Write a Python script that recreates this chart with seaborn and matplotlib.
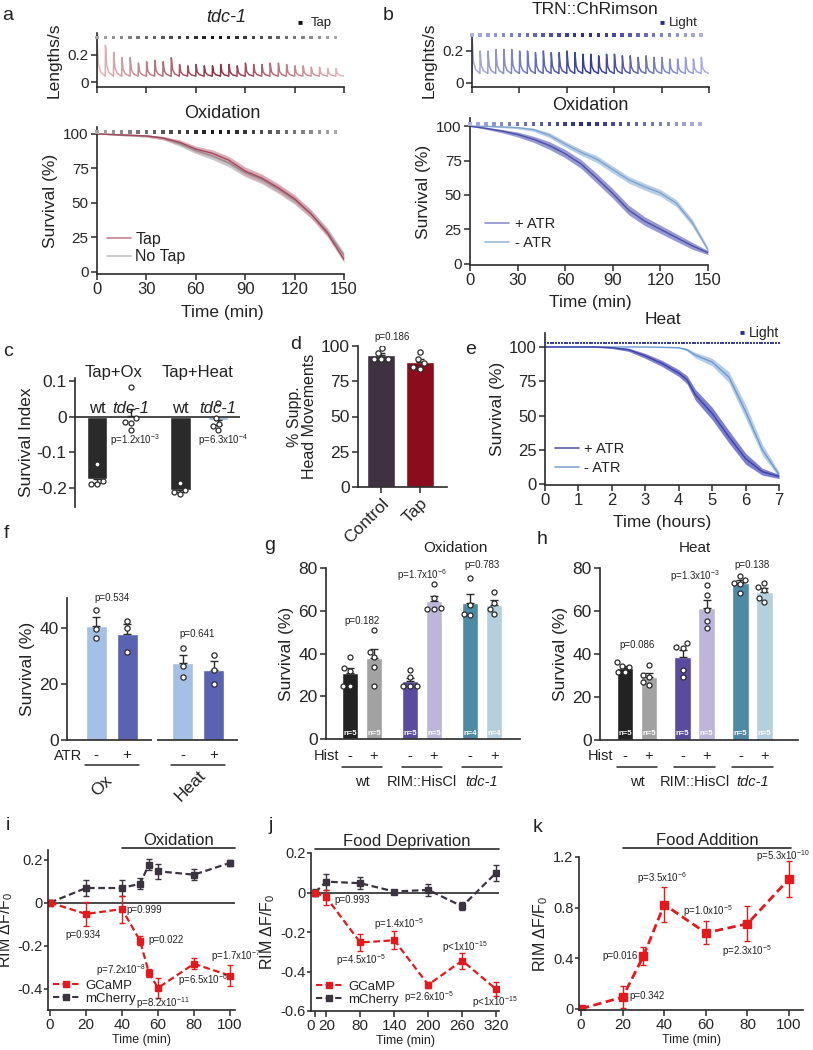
import numpy as np
import pandas as pd
import matplotlib
matplotlib.use('Agg')
import matplotlib.pyplot as plt
from matplotlib.lines import Line2D
from matplotlib.transforms import blended_transform_factory
import seaborn as sns

sns.set_theme(style='ticks')
plt.rcParams['font.family'] = ['Liberation Sans', 'DejaVu Sans']
plt.rcParams['mathtext.fontset'] = 'custom'
plt.rcParams['mathtext.rm'] = 'Liberation Sans'
plt.rcParams['mathtext.it'] = 'Liberation Sans:italic'
plt.rcParams['mathtext.default'] = 'regular'
plt.rcParams['text.color'] = '#222222'
plt.rcParams['axes.labelcolor'] = '#222222'

# ---------------- data ----------------
# a / b: speed traces, peak after every stimulus (every 5 min)
tap_times = np.arange(0, 150, 5)
a_peaks = [0.29, 0.27, 0.22, 0.18, 0.18, 0.14, 0.15, 0.16, 0.15, 0.18, 0.13, 0.12, 0.13, 0.12, 0.12,
           0.13, 0.13, 0.12, 0.14, 0.13, 0.13, 0.14, 0.14, 0.13, 0.12, 0.12, 0.11, 0.11, 0.10, 0.10]
a_base = 0.045
b_peaks = [0.27, 0.20, 0.20, 0.21, 0.21, 0.21, 0.20, 0.20, 0.19, 0.20, 0.19, 0.19, 0.20, 0.19, 0.18,
           0.18, 0.17, 0.18, 0.18, 0.17, 0.17, 0.16, 0.17, 0.16, 0.16, 0.15, 0.15, 0.16, 0.15, 0.16]
b_base = 0.06

# a / b: survival under oxidation (min)
ox_time = [0, 10, 20, 30, 40, 50, 60, 70, 80, 90, 100, 110, 120, 130, 140, 150]
a_tap = [100, 99.5, 99, 98.5, 97, 94, 89, 86, 81, 73, 68, 61, 53, 42, 28, 9]
a_tap_se = [0, 0.4, 0.6, 0.8, 1.2, 1.8, 2.2, 2.5, 2.8, 3, 3, 3, 3, 3, 2.8, 2.2]
a_notap = [100, 99.5, 99, 98.5, 97, 93, 88, 84, 79, 72, 67, 60, 52, 42, 29, 12]
a_notap_se = [0, 0.4, 0.6, 0.8, 1.2, 1.8, 2.2, 2.5, 2.8, 3, 3, 3, 3, 3, 2.8, 2.2]
b_plus = [100, 98.5, 96.5, 94, 90.5, 86, 80, 72.5, 62, 51, 39, 31, 25, 19, 13, 8]
b_plus_se = [0, 0.8, 1.2, 1.8, 2.2, 2.8, 3, 3.2, 3.5, 3.5, 3.5, 3.2, 3, 2.8, 2.5, 1.5]
b_minus = [100, 100, 99.5, 99, 97.5, 93.5, 87, 81, 76, 68.5, 61, 56, 51.5, 44, 30, 10]
b_minus_se = [0, 0.3, 0.6, 0.8, 1.2, 1.8, 2, 2.2, 2.5, 2.5, 2.5, 2.5, 2.5, 2.5, 2.5, 1.5]

# e: survival under heat (hours)
e_plus_t = [0, 1, 1.5, 2, 2.5, 3, 3.5, 4, 4.25, 4.5, 5, 5.5, 6, 6.5, 7]
e_plus = [100, 100, 100, 99.5, 98, 93.5, 88, 81, 76, 65, 51.5, 34.5, 18.5, 9, 5.5]
e_plus_se = [0, 0, 0.3, 0.6, 1.2, 1.8, 2.2, 2.5, 3, 4, 4.5, 4.5, 4, 2.5, 1.5]
e_minus_t = [0, 1, 2, 3, 4, 4.25, 4.5, 5, 5.5, 6, 6.5, 7]
e_minus = [100, 100, 100, 100, 99.5, 98, 94, 89, 78, 53, 25, 7]
e_minus_se = [0, 0, 0, 0, 0.3, 1, 2, 2.8, 4, 5, 4, 2]

# c: survival index
c_labels = ['wt', 'tdc-1', 'wt', 'tdc-1']
c_conditions = ['Tap+Ox', 'Tap+Heat']
c_points = [[-0.132, -0.181, -0.19, -0.19],
            [0.083, -0.005, -0.015, -0.018, -0.038],
            [-0.186, -0.212, -0.218, -0.205],
            [0.037, -0.005, -0.02, -0.025, -0.037]]
c_pvals = [r'p=1.2x10$^{-3}$', r'p=6.3x10$^{-4}$']

# d: head movements
d_labels = ['Control', 'Tap']
d_points = [[98.5, 95, 91, 91, 91], [95.5, 91, 88, 85, 84]]
d_pval = 'p=0.186'

# f: ATR
f_groups = ['Ox', 'Heat']
f_atr = ['-', '+', '-', '+']
f_points = [[46.5, 39.5, 36.5], [42.5, 40, 31.5], [33, 26.5, 22.5], [30.5, 25, 20]]
f_pvals = ['p=0.534', 'p=0.641']

# g / h: histamine
gh_groups = ['wt', 'RIM::HisCl', 'tdc-1']
gh_hist = ['-', '+', '-', '+', '-', '+']
g_points = [[38.5, 33, 32, 25, 25], [51, 40.8, 38.5, 33.6, 25], [32.2, 29, 25, 25, 25],
            [72.7, 66, 61, 61.5, 61], [75.5, 62.5, 58, 58.5], [68.7, 63.7, 60.7, 58.4]]
g_pvals = ['p=0.182', r'p=1.7x10$^{-6}$', 'p=0.783']
h_points = [[36.4, 34.4, 31.8, 31.8, 34], [34.9, 30.2, 29.3, 25.6, 26.8], [45, 43.1, 42.7, 32.6, 29.3],
            [72.1, 67.4, 60.5, 55.3, 52.2], [76.3, 74.4, 72.9, 72.5, 68.2], [73.2, 71, 69.8, 66.2, 64.3]]
h_pvals = ['p=0.086', r'p=1.3x10$^{-3}$', 'p=0.138']

# i: oxidation imaging
i_t = [0, 20, 40, 50, 55, 60, 80, 100]
i_gcamp = [0, -0.053, -0.03, -0.177, -0.327, -0.397, -0.285, -0.34]
i_gcamp_se = [0.01, 0.055, 0.063, 0.02, 0.02, 0.047, 0.025, 0.05]
i_mch = [0, 0.068, 0.068, 0.088, 0.177, 0.146, 0.13, 0.185]
i_mch_se = [0.01, 0.035, 0.035, 0.025, 0.025, 0.035, 0.025, 0.015]
i_pvals = ['p=0.934', 'p=0.999', 'p=0.022', r'p=7.2x10$^{-8}$', r'p=8.2x10$^{-11}$',
           r'p=6.5x10$^{-6}$', r'p=1.7x10$^{-7}$']

# j: food deprivation imaging
j_t = [0, 20, 80, 140, 200, 260, 320]
j_gcamp = [0, -0.025, -0.253, -0.242, -0.467, -0.345, -0.49]
j_gcamp_se = [0.01, 0.04, 0.045, 0.045, 0.015, 0.04, 0.035]
j_mch = [0, 0.055, 0.047, 0.005, 0.013, -0.07, 0.1]
j_mch_se = [0.02, 0.04, 0.03, 0.01, 0.03, 0.02, 0.04]
j_pvals = ['p=0.993', r'p=4.5x10$^{-5}$', r'p=1.4x10$^{-5}$', r'p=2.6x10$^{-5}$',
           r'p<1x10$^{-15}$', r'p<1x10$^{-15}$']

# k: food addition imaging
k_t = [0, 20, 30, 40, 60, 80, 100]
k_gcamp = [0, 0.092, 0.418, 0.824, 0.60, 0.672, 1.027]
k_gcamp_se = [0.01, 0.085, 0.07, 0.14, 0.09, 0.14, 0.14]
k_pvals = ['p=0.342', 'p=0.016', r'p=3.5x10$^{-6}$', r'p=1.0x10$^{-5}$', r'p=2.3x10$^{-5}$',
           r'p=5.3x10$^{-10}$']

# ---------------- layout helpers ----------------
W, H = 813, 1050
fig = plt.figure(figsize=(W / 100, H / 100), dpi=100)
INK = '#2a2a2a'
RED = '#e3191c'
MCH = '#3b3340'


def axes_px(l, t, r, b):
    return fig.add_axes([l / W, 1 - b / H, (r - l) / W, (b - t) / H])


def ftext(x, y, s, **kw):
    kw.setdefault('ha', 'center')
    kw.setdefault('va', 'center')
    return fig.text(x / W, 1 - y / H, s, **kw)


def style(ax, size=11):
    sns.despine(ax=ax)
    ax.tick_params(direction='out', length=4, width=1.1, labelsize=size, pad=2, color=INK)
    for s in ['left', 'bottom']:
        ax.spines[s].set_linewidth(1.2)
        ax.spines[s].set_color(INK)


def trace(ax, peaks, base, pal):
    dt = np.array([0, 0.15, 0.9, 2.2, 4.9])
    fr = np.array([0, 1, 0.35, 0.12, 0])
    for i, (t, p) in enumerate(zip(tap_times, peaks)):
        ax.plot(t + dt, base + (p - base) * fr, color=pal[i], lw=1.1)


def surv(ax, t, y, se, line_col, band_col):
    t, y, se = np.asarray(t), np.asarray(y), np.asarray(se)
    ax.fill_between(t, y - se, y + se, color=band_col, alpha=0.8, lw=0)
    sns.lineplot(x=t, y=y, ax=ax, color=line_col, lw=1)


def bars(ax, pos, groups, colors, width, ptsize=3.8):
    rows = []
    for x, vals, col in zip(pos, groups, colors):
        m = np.mean(vals)
        se = np.std(vals, ddof=1) / np.sqrt(len(vals))
        ax.bar(x, m, width=width, color=col, zorder=1)
        yerr = [[0], [se]] if m >= 0 else [[se], [0]]
        ax.errorbar(x, m, yerr=yerr, color=INK, capsize=3, elinewidth=1, capthick=1, zorder=2)
        rows += [(x, v) for v in vals]
    df = pd.DataFrame(rows, columns=['pos', 'val'])
    sns.swarmplot(data=df, x='pos', y='val', native_scale=True, orient='x', ax=ax, size=ptsize,
                  color='white', edgecolor=INK, linewidth=0.9, zorder=3)
    ax.set_xlabel('')
    ax.set_ylabel('')


def stim_dots(ax, times, y, pal, size=6):
    ax.scatter(times, [y] * len(times), marker='s', s=size, c=pal, lw=0, clip_on=False, zorder=4)


tap_pal = sns.blend_palette(['#a8a8a8', '#151515', '#a8a8a8'], len(tap_times))
light_pal = sns.blend_palette(['#aeb0e0', '#23278a', '#aeb0e0'], len(tap_times))

# ---------------- a ----------------
ax = axes_px(97, 33, 344, 87)
trace(ax, a_peaks, a_base, sns.blend_palette(['#e2b6bc', '#8a3043', '#e2b6bc'], len(tap_times)))
stim_dots(ax, tap_times, 0.325, tap_pal)
ax.set_xlim(0, 150)
ax.set_ylim(-0.035, 0.36)
ax.set_xticks(range(0, 151, 30), [])
ax.set_yticks([0, 0.2], ['0', '0.2'])
style(ax, 11)
ax.set_ylabel('Lengths/s', fontsize=12.5, labelpad=4)
ftext(226, 17, 'tdc-1', fontsize=13, style='italic')
ftext(300, 23, '■', fontsize=6, color='#111111')
ftext(321, 23, 'Tap', fontsize=9.5)

ax = axes_px(97, 127, 344, 274)
surv(ax, ox_time, a_notap, a_notap_se, '#8e8e8e', '#b9b9b9')
surv(ax, ox_time, a_tap, a_tap_se, '#a44860', '#d99aa8')
stim_dots(ax, tap_times, 101.5, tap_pal)
ax.set_xlim(0, 150)
ax.set_ylim(-1.5, 105)
ax.set_xticks(range(0, 151, 30))
ax.set_yticks([0, 25, 50, 75, 100])
style(ax, 11)
ax.tick_params(axis='x', labelsize=12)
ax.set_ylabel('Survival (%)', fontsize=12.5, labelpad=4)
ax.legend([Line2D([], [], color='#c4848f', lw=1.2), Line2D([], [], color='#c2c2c2', lw=1.2)],
          ['Tap', 'No Tap'], loc='lower left', frameon=False, fontsize=11.5, handlelength=1.5,
          handletextpad=0.3, labelspacing=0.15, borderaxespad=0.2)
ftext(222, 113, 'Oxidation', fontsize=13)
ftext(222, 313, 'Time (min)', fontsize=12.5)

# ---------------- b ----------------
ax = axes_px(472, 34, 709, 87)
trace(ax, b_peaks, b_base, sns.blend_palette(['#a9acdd', '#33379a', '#a9acdd'], len(tap_times)))
stim_dots(ax, tap_times, 0.3, light_pal)
ax.set_xlim(0, 150)
ax.set_ylim(-0.025, 0.306)
ax.set_xticks(range(0, 151, 30), [])
ax.set_yticks([0, 0.2], ['0', '0.2'])
style(ax, 11)
ax.set_ylabel('Lenghts/s', fontsize=12.5, labelpad=4)
ftext(595, 9, 'TRN::ChRimson', fontsize=12.5)
ftext(662, 23, '■', fontsize=6, color='#2a2e8c')
ftext(683, 23, 'Light', fontsize=9.5)

ax = axes_px(470, 118, 708, 265)
surv(ax, ox_time, b_minus, b_minus_se, '#7fa3cf', '#a7c2e2')
surv(ax, ox_time, b_plus, b_plus_se, '#4b4fa6', '#7c80c8')
stim_dots(ax, tap_times, 101.5, light_pal)
ax.set_xlim(0, 150)
ax.set_ylim(-1, 106)
ax.set_xticks(range(0, 151, 30))
ax.set_yticks([0, 25, 50, 75, 100])
style(ax, 11)
ax.tick_params(axis='x', labelsize=12)
ax.set_ylabel('Survival (%)', fontsize=12.5, labelpad=4)
ax.legend([Line2D([], [], color='#8d8fcc', lw=1.2), Line2D([], [], color='#9db8dc', lw=1.2)],
          ['+ ATR', '- ATR'], loc='lower left', frameon=False, fontsize=10.5, handlelength=1.7,
          handletextpad=0.4, labelspacing=0.35, borderaxespad=0.6)
ftext(590, 105, 'Oxidation', fontsize=13)
ftext(590, 302, 'Time (min)', fontsize=12.5)

# ---------------- c ----------------
ax = axes_px(75, 378, 240, 507)
pos_c = [0, 1, 2.45, 3.55]
bars(ax, pos_c, c_points, [INK, '#8fb0d0', INK, '#8fb0d0'], 0.6, ptsize=3.6)
ax.axhline(0, color=INK, lw=1.2, zorder=2)
ax.set_xlim(-0.65, 4.2)
ax.set_ylim(-0.253, 0.108)
ax.set_xticks([])
ax.set_yticks([0.1, 0, -0.1, -0.2], ['0.1', '0', '-0.1', '-0.2'])
style(ax, 12.5)
ax.spines['bottom'].set_visible(False)
ax.set_ylabel('Survival Index', fontsize=12.5, labelpad=2)
for x, lab in zip(pos_c, c_labels):
    ax.text(x, 0.024, lab, ha='center', va='center', fontsize=12,
            style='italic' if lab != 'wt' else 'normal', zorder=5)
ftext(114, 372, c_conditions[0], fontsize=12)
ftext(198, 372, c_conditions[1], fontsize=12)
ax.text(1.1, -0.065, c_pvals[0], ha='center', va='center', fontsize=7)
ax.text(3.7, -0.065, c_pvals[1], ha='center', va='center', fontsize=7)

# ---------------- d ----------------
ax = axes_px(358, 346, 447, 487)
bars(ax, [0, 1], d_points, ['#3f3141', '#8a0c1d'], 0.72)
ax.set_xlim(-0.59, 1.69)
ax.set_ylim(0, 100)
ax.set_yticks([0, 25, 50, 75, 100])
ax.set_xticks([0, 1], d_labels, rotation=45, ha='right', rotation_mode='anchor')
style(ax, 12.5)
ax.set_ylabel('% Supp.\nHead Movements', fontsize=11.5, labelpad=3, linespacing=1.0)
ftext(392, 337, d_pval, fontsize=7)

# ---------------- e ----------------
ax = axes_px(545, 333, 779, 485)
surv(ax, e_minus_t, e_minus, e_minus_se, '#6e9bd0', '#a3c0e4')
surv(ax, e_plus_t, e_plus, e_plus_se, '#3c41a8', '#5a5fc2')
light_times = np.arange(0, 7.01, 5 / 60)
ax.scatter(light_times, [103] * len(light_times), marker='s', s=2.5, color='#3a3fa3', lw=0,
           clip_on=False, zorder=4)
ax.set_xlim(0, 7)
ax.set_ylim(-0.7, 110.2)
ax.set_xticks(range(0, 8))
ax.set_yticks([0, 25, 50, 75, 100])
style(ax, 12)
ax.set_ylabel('Survival (%)', fontsize=12.5, labelpad=3)
ax.legend([Line2D([], [], color='#5b5ea8', lw=1.2), Line2D([], [], color='#84a6d3', lw=1.2)],
          ['+ ATR', '- ATR'], loc='lower left', frameon=False, fontsize=10.5, handlelength=1.6,
          handletextpad=0.4, labelspacing=0.3, borderaxespad=0.3)
ftext(663, 320, 'Heat', fontsize=12.5)
ftext(742, 333, '■', fontsize=6, color='#2a2e8c')
ftext(764, 333, 'Light', fontsize=10)
ftext(662, 522, 'Time (hours)', fontsize=12.5)

# ---------------- f ----------------
ax = axes_px(67, 598, 238, 740)
pos_f = [0, 1, 2.8, 3.8]
bars(ax, pos_f, f_points, ['#a4c0e6', '#5a62b2', '#a4c0e6', '#5a62b2'], 0.68)
ax.set_xlim(-0.94, 4.58)
ax.set_ylim(0, 50.7)
ax.set_xticks([])
ax.set_yticks([0, 20, 40])
style(ax, 12.5)
ax.spines['bottom'].set_visible(False)
ax.hlines(0, -0.94, 1.8, color=INK, lw=1.2, clip_on=False)
ax.hlines(0, 1.97, 4.58, color=INK, lw=1.2, clip_on=False)
ax.set_ylabel('Survival (%)', fontsize=12.5, labelpad=3)
tr = blended_transform_factory(ax.transData, fig.transFigure)
for x, s in zip(pos_f, f_atr):
    ax.text(x, 1 - 755 / H, s, transform=tr, ha='center', va='center', fontsize=11)
ftext(68, 756, 'ATR', fontsize=10.5)
for gc, lab, rot_x in zip([0.5, 3.3], f_groups, [102, 190]):
    ax.plot([gc - 0.87, gc + 0.87], [1 - 765 / H] * 2, transform=tr, color=INK, lw=1.1, clip_on=False)
    ftext(rot_x, 786, lab, fontsize=12.5, rotation=45)
ftext(112, 598, f_pvals[0], fontsize=7)
ftext(197, 634, f_pvals[1], fontsize=7)


# ---------------- g / h ----------------
def hist_panel(ax, pos, points, ns, pvals, ptxt, title, title_xy):
    bars(ax, pos, points, ['#222222', '#a2a2a2', '#5b4b9e', '#bdb6da', '#4f8aa4', '#b5d0dc'], 0.7,
         ptsize=3.6)
    ax.set_ylim(0, 80)
    ax.set_yticks([0, 20, 40, 60, 80])
    ax.set_xticks([])
    style(ax, 12.5)
    ax.set_ylabel('Survival (%)', fontsize=12.5, labelpad=3)
    tr = blended_transform_factory(ax.transData, fig.transFigure)
    for x, s, n in zip(pos, gh_hist, ns):
        ax.text(x, 1 - 756 / H, s, transform=tr, ha='center', va='center', fontsize=10.5)
        ax.text(x, 2.8, 'n=%d' % n, ha='center', va='center', fontsize=5.5, color='white',
                weight='bold')
    tr2 = blended_transform_factory(ax.transAxes, fig.transFigure)
    ax.text(0, 1 - 756 / H, 'Hist', transform=tr2, ha='center', va='center', fontsize=10.5)
    for gi, lab in enumerate(gh_groups):
        gc = (pos[2 * gi] + pos[2 * gi + 1]) / 2
        ax.plot([gc - 0.85, gc + 0.85], [1 - 767 / H] * 2, transform=tr, color=INK, lw=1.1,
                clip_on=False)
        ax.text(gc, 1 - 782 / H, lab, transform=tr, ha='center', va='center', fontsize=10.5,
                style='italic' if lab == 'tdc-1' else 'normal')
    for gi, (p, yv) in enumerate(zip(pvals, ptxt)):
        gc = (pos[2 * gi] + pos[2 * gi + 1]) / 2
        ax.text(gc, yv, p, ha='center', va='center', fontsize=7, clip_on=False)
    ftext(*title_xy, title, fontsize=11)


ax = axes_px(326, 568, 520, 739)
pos_g = [0, 1, 2.5, 3.5, 5, 6]
hist_panel(ax, pos_g, g_points, [len(p) for p in g_points], g_pvals, [55, 76.5, 81.5],
           'Oxidation', (455, 548))
ax.set_xlim(-1.0, 7.08)

ax = axes_px(600, 568, 798, 740)
pos_h = [0, 1, 2.4, 3.4, 4.8, 5.8]
hist_panel(ax, pos_h, h_points, [len(p) for p in h_points], h_pvals, [44, 76, 81.5],
           'Heat', (695, 548))
ax.set_xlim(-1.04, 7.2)


# ---------------- i / j / k ----------------
def dff(ax, t, y, se, color, lw=1.6, ms=5):
    ax.errorbar(t, y, yerr=se, color=color, ls='--', lw=lw, marker='s', ms=ms, capsize=2,
                elinewidth=1, capthick=1, dashes=(3, 1.6))


def dff_legend(ax):
    ax.legend([Line2D([], [], color=RED, ls='--', marker='s', ms=5, lw=1.5, dashes=(3, 1.6)),
               Line2D([], [], color=MCH, ls='--', marker='s', ms=5, lw=1.5, dashes=(3, 1.6))],
              ['GCaMP', 'mCherry'], loc='lower left', frameon=False, fontsize=9.5, handlelength=2.0,
              handletextpad=0.4, labelspacing=0.05, borderaxespad=0.0)


def stim_bar(ax, x0, x1, y, label):
    ax.plot([x0, x1], [y, y], color=INK, lw=1.2, clip_on=False)
    ax.text((x0 + x1) / 2, y, label, ha='center', va='bottom', fontsize=12)


def dff_style(ax, label_dx, width_px):
    style(ax, 11)
    ax.tick_params(axis='y', labelsize=10.5, pad=1, length=3)
    ax.set_ylabel('RIM ΔF/F$_0$', fontsize=11.5)
    ax.yaxis.set_label_coords(label_dx / width_px, 0.5)
    ax.set_xlabel('Time (min)', fontsize=9, labelpad=1)


ax = axes_px(48, 850, 235, 1010)
ax.axhline(0, color=INK, lw=1.2)
dff(ax, i_t, i_mch, i_mch_se, MCH)
dff(ax, i_t, i_gcamp, i_gcamp_se, RED)
ax.set_xlim(-1.1, 102.8)
ax.set_ylim(-0.5, 0.245)
ax.set_xticks(range(0, 101, 20))
ax.set_yticks([-0.4, -0.2, 0, 0.2], ['-0.4', '-0.2', '0', '0.2'])
dff_style(ax, -33, 187)
stim_bar(ax, 40, 102.8, 0.255, 'Oxidation')
dff_legend(ax)
for (x, y, ha), p in zip([(18.5, -0.149, 'center'), (42.5, -0.033, 'left'), (54.5, -0.172, 'left'),
                          (53.5, -0.312, 'right'), (48, -0.47, 'left'), (71, -0.363, 'left'),
                          (89.5, -0.251, 'left')], i_pvals):
    ax.text(x, y, p, ha=ha, va='center', fontsize=7)

ax = axes_px(311, 853, 499, 1011)
ax.axhline(0, color=INK, lw=1.2)
dff(ax, j_t, j_mch, j_mch_se, MCH)
dff(ax, j_t, j_gcamp, j_gcamp_se, RED)
ax.set_xlim(-7, 325)
ax.set_ylim(-0.6, 0.2)
ax.set_xticks(j_t)
ax.set_yticks([-0.6, -0.4, -0.2, 0, 0.2], ['-0.6', '-0.4', '-0.2', '0', '0.2'])
dff_style(ax, -34, 188)
ax.get_xticklabels()[0].set_horizontalalignment('right')
stim_bar(ax, 0, 325, 0.22, 'Food Deprivation')
dff_legend(ax)
for (x, y, ha), p in zip([(35, -0.04, 'left'), (82, -0.34, 'center'), (149, -0.16, 'center'),
                          (202, -0.53, 'center'), (265, -0.275, 'center'), (318, -0.555, 'center')],
                         j_pvals):
    ax.text(x, y, p, ha=ha, va='center', fontsize=7)

ax = axes_px(579, 857, 803, 1010)
dff(ax, k_t, k_gcamp, k_gcamp_se, RED, lw=2, ms=6)
ax.set_xlim(-1, 106.7)
ax.set_ylim(-0.01, 1.2)
ax.set_xticks(range(0, 101, 20))
ax.set_yticks([0, 0.4, 0.8, 1.2], ['0', '0.4', '0.8', '1.2'])
dff_style(ax, -29, 224)
stim_bar(ax, 20, 101, 1.27, 'Food Addition')
for (x, y, ha), p in zip([(23, 0.10, 'left'), (27.5, 0.415, 'right'), (39, 1.03, 'center'),
                          (61, 0.77, 'center'), (80, 0.455, 'center'), (97, 1.21, 'center')], k_pvals):
    ax.text(x, y, p, ha=ha, va='center', fontsize=7, clip_on=False)

# ---------------- panel letters ----------------
for lab, x, y in [('a', 8, 16), ('b', 388, 16), ('c', 8, 352), ('d', 296, 344), ('e', 471, 350),
                  ('f', 6, 534), ('g', 270, 545), ('h', 542, 540), ('i', 8, 826), ('j', 271, 826),
                  ('k', 538, 828)]:
    ftext(x, y, lab, fontsize=14)

fig.savefig('out.png', dpi=100)
